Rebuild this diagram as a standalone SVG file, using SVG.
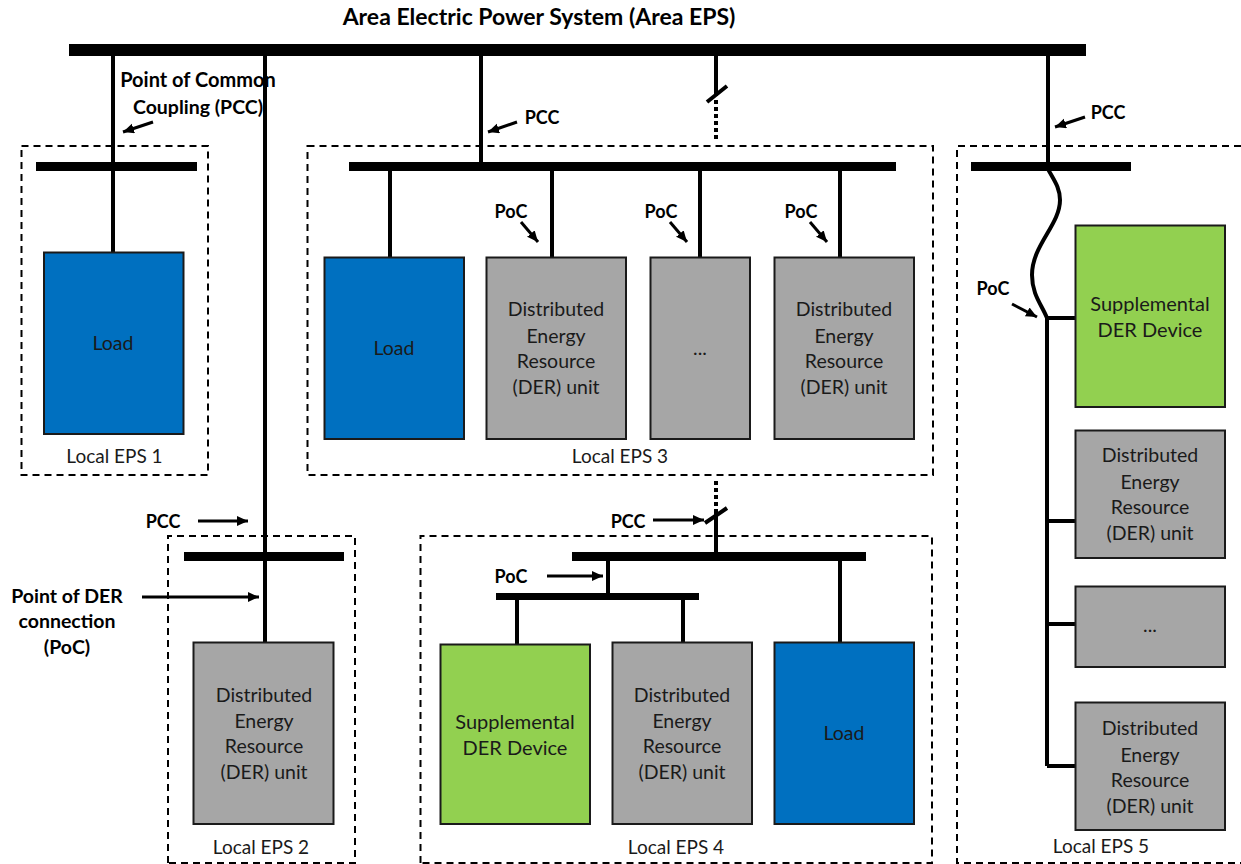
<svg xmlns="http://www.w3.org/2000/svg" width="1241" height="864" viewBox="0 0 1241 864">
<defs>
<marker id="ah" markerUnits="userSpaceOnUse" markerWidth="12" markerHeight="12" refX="11" refY="5" orient="auto"><path d="M0 0L11 5L0 10Z" fill="#000"/></marker>
</defs>
<style>
text{font-family:"Lato","Open Sans","Liberation Sans",sans-serif;font-size:19.5px;text-anchor:middle;fill:#1a1a1a}
.b{font-weight:700;fill:#000}
.s{font-size:18px}
.l{font-size:19px}
.g{font-size:20px}
.box{fill:none;stroke:#000;stroke-width:2;stroke-dasharray:7 5}
.bus{fill:#000}
.w{fill:none;stroke:#000;stroke-width:4}
.a{fill:none;stroke:#000;stroke-width:3;marker-end:url(#ah)}
.n{stroke:#1a1a1a;stroke-width:2}
.load{fill:#0070c0}.der{fill:#a6a6a6}.sup{fill:#92d050}
</style>
<g id="boundaries">
<rect id="eps1-box" class="box" x="21.500" y="146" width="186.500" height="329"/>
<rect id="eps3-box" class="box" x="307.500" y="146" width="625.500" height="329"/>
<path id="eps2-box" class="box" d="M168 863V536H355V863H168"/>
<path id="eps4-box" class="box" d="M420.500 863V536H932V863H420.500"/>
<path id="eps5-box" class="box" d="M1241 146H957V863H1241"/>
</g>
<g id="connectors">
<path class="w" d="M113 50V252M265 50V642M481 50V166M716 50V96M1048 50V166M390 166V257M552 166V257M700 166V257M840 166V257M517 597V644M683 597V642M840 552V642M716 510V556M608 556V597M1047 318V766M1047 318H1075M1047 521H1075M1047 624H1075M1047 766H1075"/>
<path class="w" d="M1047 167C1052 178 1060 186 1060 200C1060 225 1032 245 1032 275C1032 295 1042 305 1047 318"/>
<path d="M716 100V140M716 481V510" fill="none" stroke="#000" stroke-width="4" stroke-dasharray="4 3"/>
<path class="w" d="M707 102L727 86M705 523L727 508"/>
<path class="a" d="M153 122L123 132"/>
<path class="a" d="M517 122L488 132"/>
<path class="a" d="M1085 117L1055 127"/>
<path class="a" d="M521 222L538 242"/>
<path class="a" d="M670 222L687 242"/>
<path class="a" d="M810 222L827 242"/>
<path class="a" d="M1012 304L1037 317"/>
<path class="a" d="M198 521H248"/>
<path class="a" d="M142 597H259"/>
<path class="a" d="M653 520H704"/>
<path class="a" d="M547 576H603"/>
</g>
<g id="buses">
<rect class="bus" x="69" y="44" width="1017" height="12"/>
<rect class="bus" x="36" y="162" width="161" height="9"/>
<rect class="bus" x="349" y="162" width="547" height="9"/>
<rect class="bus" x="971" y="162" width="160" height="9"/>
<rect class="bus" x="184" y="552" width="160" height="9"/>
<rect class="bus" x="572" y="552" width="294" height="9"/>
<rect class="bus" x="496" y="593" width="203" height="7"/>
</g>
<g id="load-1"><rect class="n load" x="44" y="252.500" width="139.500" height="181.500"/><text x="113" y="350">Load</text></g>
<g id="load-3"><rect class="n load" x="324.500" y="257.500" width="139.500" height="181.500"/><text x="394" y="355">Load</text></g>
<g id="der-3a"><rect class="n der" x="486.500" y="257.500" width="139.500" height="181.500"/><text x="556" y="316">Distributed</text><text x="556" y="343">Energy</text><text x="556" y="368">Resource</text><text x="556" y="394">(DER) unit</text></g>
<g id="der-3b"><rect class="n der" x="650.500" y="257.500" width="99.500" height="181.500"/><text x="700" y="355">...</text></g>
<g id="der-3c"><rect class="n der" x="774.500" y="257.500" width="139.500" height="181.500"/><text x="844" y="316">Distributed</text><text x="844" y="343">Energy</text><text x="844" y="368">Resource</text><text x="844" y="394">(DER) unit</text></g>
<g id="der-2"><rect class="n der" x="193.500" y="642.500" width="140" height="181.500"/><text x="264" y="702">Distributed</text><text x="264" y="728">Energy</text><text x="264" y="753">Resource</text><text x="264" y="779">(DER) unit</text></g>
<g id="sup-4"><rect class="n sup" x="440.500" y="644.500" width="149.500" height="179.500"/><text class="g" x="515" y="729">Supplemental</text><text class="g" x="515" y="755">DER Device</text></g>
<g id="der-4"><rect class="n der" x="612.500" y="642.500" width="139.500" height="181.500"/><text x="682" y="702">Distributed</text><text x="682" y="728">Energy</text><text x="682" y="753">Resource</text><text x="682" y="779">(DER) unit</text></g>
<g id="load-4"><rect class="n load" x="774.500" y="642.500" width="139.500" height="181.500"/><text x="844" y="740">Load</text></g>
<g id="sup-5"><rect class="n sup" x="1075.500" y="225.500" width="149.500" height="181.500"/><text class="g" x="1150" y="311">Supplemental</text><text class="g" x="1150" y="337">DER Device</text></g>
<g id="der-5a"><rect class="n der" x="1075.500" y="430.500" width="149.500" height="127.500"/><text x="1150" y="462">Distributed</text><text x="1150" y="489">Energy</text><text x="1150" y="514">Resource</text><text x="1150" y="540">(DER) unit</text></g>
<g id="der-5b"><rect class="n der" x="1075.500" y="586.500" width="149.500" height="80.500"/><text x="1150" y="632">...</text></g>
<g id="der-5c"><rect class="n der" x="1075.500" y="702.500" width="149.500" height="127.500"/><text x="1150" y="735">Distributed</text><text x="1150" y="762">Energy</text><text x="1150" y="787">Resource</text><text x="1150" y="813">(DER) unit</text></g>
<g id="labels">
<text class="b" x="539" y="25" style="font-size:23px">Area Electric Power System (Area EPS)</text>
<text class="b" x="198" y="87" style="font-size:20px">Point of Common</text>
<text class="b" x="198" y="114">Coupling (PCC)</text>
<text class="b s" x="542" y="124">PCC</text>
<text class="b s" x="1108" y="119">PCC</text>
<text class="b s" x="511" y="218">PoC</text>
<text class="b s" x="661" y="218">PoC</text>
<text class="b s" x="801" y="218">PoC</text>
<text class="b s" x="993" y="295">PoC</text>
<text class="b s" x="163" y="528">PCC</text>
<text class="b" x="67" y="603">Point of DER</text>
<text class="b" x="67" y="628">connection</text>
<text class="b" x="67" y="654">(PoC)</text>
<text class="b s" x="628" y="528">PCC</text>
<text class="b s" x="511" y="583">PoC</text>
<text class="l" x="114.500" y="463">Local EPS 1</text>
<text class="l" x="620" y="463">Local EPS 3</text>
<text class="l" x="261" y="854">Local EPS 2</text>
<text class="l" x="676" y="854">Local EPS 4</text>
<text class="l" x="1101" y="853">Local EPS 5</text>
</g>
</svg>
